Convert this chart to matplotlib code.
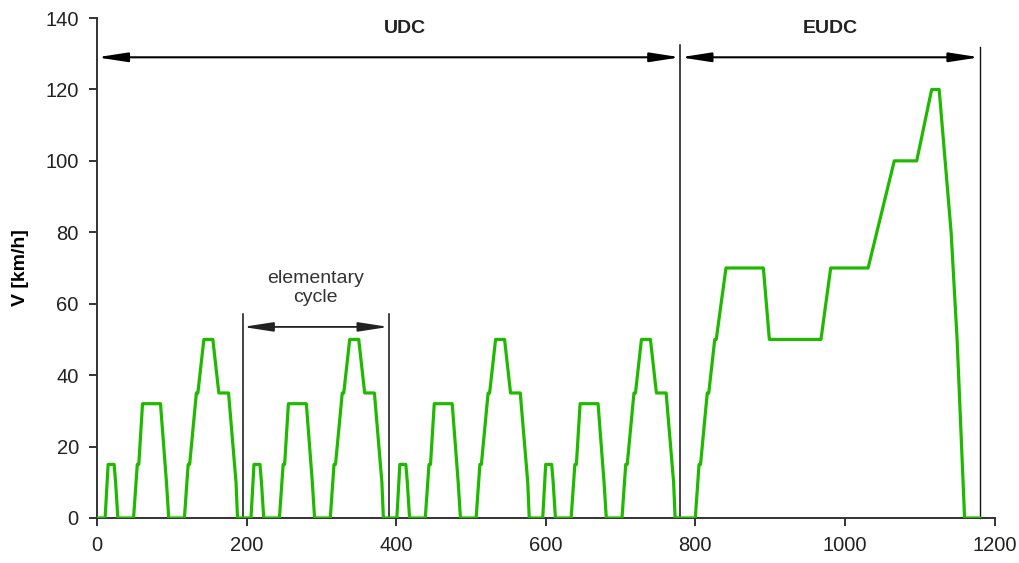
import numpy as np
import matplotlib
matplotlib.use('Agg')
import matplotlib.pyplot as plt

plt.rcParams['font.family'] = ['Liberation Sans', 'DejaVu Sans']

# Ciclo elemental urbano (ECE-15): tiempo [s] y velocidad [km/h]
ece_t = [0, 11, 15, 23, 25, 28, 49, 54, 56, 61, 85, 93, 96, 117, 122, 124,
         133, 135, 143, 155, 163, 176, 186, 188, 195]
ece_v = [0, 0, 15, 15, 10, 0, 0, 15, 15, 32, 32, 10, 0, 0, 15, 15,
         35, 35, 50, 50, 35, 35, 10, 0, 0]
n_ece = 4  # el UDC son 4 ciclos elementales

# Ciclo extraurbano (EUDC), tiempo relativo a su inicio
eudc_t = [0, 20, 25, 27, 36, 38, 46, 48, 61, 111, 119, 188, 201, 251, 286,
          316, 336, 346, 362, 370, 380, 400]
eudc_v = [0, 0, 15, 15, 35, 35, 50, 50, 70, 70, 50, 50, 70, 70, 100,
          100, 120, 120, 80, 50, 0, 0]

x_ticks = [0, 200, 400, 600, 800, 1000, 1200]
y_ticks = [0, 20, 40, 60, 80, 100, 120, 140]

# Armar el NEDC completo
T_ece = ece_t[-1]
t = []
v = []
for k in range(n_ece):
    t += [ti + k * T_ece for ti in ece_t]
    v += ece_v
t_udc = n_ece * T_ece
t += [ti + t_udc for ti in eudc_t]
v += eudc_v
t_end = t_udc + eudc_t[-1]

fig = plt.figure(figsize=(10.2, 5.63), dpi=100)
ax = fig.add_axes([0.095, 0.08, 0.88, 0.888])

ax.plot(t, v, color='#1fba00', lw=2.3, solid_joinstyle='round', zorder=3)

ax.set_xlim(0, 1200)
ax.set_ylim(0, 140)
ax.set_xticks(x_ticks)
ax.set_yticks(y_ticks)
ax.spines['top'].set_visible(False)
ax.spines['right'].set_visible(False)
for s in ['left', 'bottom']:
    ax.spines[s].set_color('#333333')
    ax.spines[s].set_linewidth(1.4)
ax.tick_params(direction='out', length=6, width=1.4, color='#333333',
               labelsize=14.5, labelcolor='#222222', pad=7)
ax.set_ylabel('V [km/h]', fontsize=14, fontweight='bold', labelpad=12)
for sp in ax.spines.values():
    sp.set_clip_on(False)

# Líneas verticales de separación
ax.plot([t_udc, t_udc], [0, 132.5], color='#111111', lw=1.1, clip_on=False)
ax.plot([t_end, t_end], [0, 132], color='#111111', lw=1.0, clip_on=False)
ax.plot([T_ece, T_ece], [0, 57], color='#111111', lw=1.1)
ax.plot([2 * T_ece, 2 * T_ece], [0, 57], color='#111111', lw=1.1)

# Flechas de cota
arr = dict(arrowstyle='<|-|>,head_length=1.3,head_width=0.2', color='black',
           lw=1.5, shrinkA=0, shrinkB=0, mutation_scale=14)
ax.annotate('', xy=(0, 129), xytext=(t_udc, 129), arrowprops=arr,
            annotation_clip=False)
ax.annotate('', xy=(t_udc, 129), xytext=(t_end, 129), arrowprops=arr,
            annotation_clip=False)
arr2 = dict(arr, lw=1.3, color='#222222')
ax.annotate('', xy=(T_ece, 53.5), xytext=(2 * T_ece, 53.5), arrowprops=arr2)

ax.text(412, 137, 'UDC', ha='center', va='center', fontsize=14,
        fontweight='bold', color='#222222')
ax.text((t_udc + t_end) / 2, 137, 'EUDC', ha='center', va='center',
        fontsize=14, fontweight='bold', color='#222222')
ax.text(1.5 * T_ece, 64.5, 'elementary\ncycle', ha='center', va='center',
        fontsize=14, color='#333333', linespacing=1.15)

fig.savefig('out.png', dpi=100)
